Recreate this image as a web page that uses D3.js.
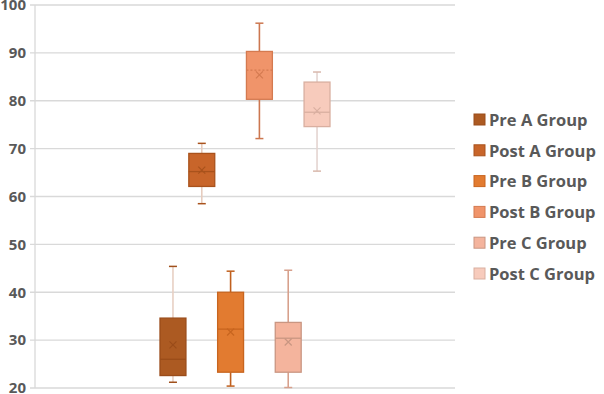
<!DOCTYPE html>
<html><head><meta charset="utf-8">
<script src="https://cdn.jsdelivr.net/npm/d3@7"></script>
<style>body{margin:0;background:#fff}svg{display:block}</style>
</head><body><svg id="c" width="604" height="394"></svg>
<script>
const series = ["Pre A Group","Post A Group","Pre B Group","Post B Group","Pre C Group","Post C Group"];
const whiskerLow  = [21.2, 58.5, 20.4, 72.1, 20.1, 65.3];
const q1          = [22.6, 62.1, 23.3, 80.3, 23.3, 74.6];
const median      = [26.0, 65.2, 32.3, 86.4, 30.4, 77.6];
const q3          = [34.6, 69.0, 40.0, 90.3, 33.7, 83.9];
const whiskerHigh = [45.4, 71.1, 44.4, 96.2, 44.6, 86.0];
const mean        = [29.0, 65.5, 31.7, 85.4, 29.6, 77.9];
const yTicks = [20,30,40,50,60,70,80,90,100];

const fills   = ["#AC5A22","#C8652A","#E27B30","#F0946A","#F4B49D","#F7CBBC"];
const strokes = ["#9A4C1A","#A9521C","#C8651F","#D47A50","#C99682","#D9AFA0"];
const whisk   = ["#E8D0C3","#E6CCBE","#C0601E","#CC7750","#D7A08C","#E4D4D0"];
const caps    = ["#A0501C","#A9521C","#C0601E","#CC7750","#D7A08C","#D9B8AC"];

const svg = d3.select("#c");
const L = 35, R = 455, T = 5, B = 388;
const y = d3.scaleLinear().domain([20,100]).range([B,T]);
const x = d3.scaleBand().domain(series).range([160, 330]).paddingInner(0.1).paddingOuter(0);
const FONT = "'Open Sans', Lato, sans-serif";

svg.append("g").selectAll("line").data(yTicks).join("line")
  .attr("x1", L-5).attr("x2", R).attr("y1", d=>y(d)).attr("y2", d=>y(d))
  .attr("stroke","#D9D9D9").attr("stroke-width",1.3);
svg.append("line").attr("x1",L).attr("x2",L).attr("y1",T).attr("y2",B).attr("stroke","#D9D9D9").attr("stroke-width",1.3);

const yAxis = d3.axisLeft(y).tickValues(yTicks).tickSize(0).tickPadding(4);
const ga = svg.append("g").attr("transform",`translate(${L-5},0)`).call(yAxis);
ga.select(".domain").remove();
ga.selectAll("text").attr("fill","#595959").style("font-family",FONT)
  .style("font-weight","700").style("font-size","15px");

const bw = x.bandwidth();
const g = svg.append("g");
series.forEach((s,i)=>{
  const cx = x(s) + bw/2;
  const left = x(s);
  g.append("line").attr("x1",cx).attr("x2",cx).attr("y1",y(whiskerHigh[i])).attr("y2",y(q3[i]))
    .attr("stroke",whisk[i]).attr("stroke-width",1.6);
  g.append("line").attr("x1",cx).attr("x2",cx).attr("y1",y(q1[i])).attr("y2",y(whiskerLow[i]))
    .attr("stroke",whisk[i]).attr("stroke-width",1.6);
  [whiskerHigh[i], whiskerLow[i]].forEach(v=>{
    g.append("line").attr("x1",cx-4).attr("x2",cx+4).attr("y1",y(v)).attr("y2",y(v))
      .attr("stroke",caps[i]).attr("stroke-width",1.5);
  });
  g.append("rect").attr("x",left).attr("width",bw).attr("y",y(q3[i])).attr("height",y(q1[i])-y(q3[i]))
    .attr("fill",fills[i]).attr("stroke",strokes[i]).attr("stroke-width",1.3);
  g.append("line").attr("x1",left).attr("x2",left+bw).attr("y1",y(median[i])).attr("y2",y(median[i]))
    .attr("stroke",strokes[i]).attr("stroke-width",1.3)
    .attr("stroke-dasharray", i===3 ? "2,2" : null);
  const my = y(mean[i]), r = 3.5;
  g.append("path").attr("d",`M${cx-r},${my-r}L${cx+r},${my+r}M${cx-r},${my+r}L${cx+r},${my-r}`)
    .attr("stroke",strokes[i]).attr("stroke-width",1.2).attr("fill","none");
});

const lg = svg.append("g");
series.forEach((s,i)=>{
  const ly = 120 + i*30.8;
  lg.append("rect").attr("x",474).attr("y",ly-6).attr("width",11).attr("height",11)
    .attr("fill",fills[i]).attr("stroke",strokes[i]).attr("stroke-width",1);
  lg.append("text").attr("x",489).attr("y",ly).attr("dy","0.35em").text(s)
    .attr("fill","#595959").style("font-family",FONT)
    .style("font-weight","700").style("font-size","16.5px");
});
</script></body></html>
